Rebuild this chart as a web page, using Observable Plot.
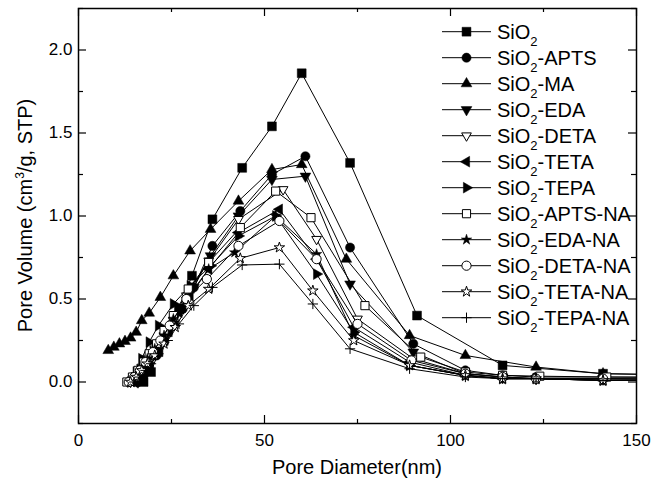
<!DOCTYPE html>
<html><head><meta charset="utf-8">
<script src="https://cdn.jsdelivr.net/npm/d3@7"></script>
<script src="https://cdn.jsdelivr.net/npm/@observablehq/plot@0.6"></script>
<style>
body{margin:0;background:#fff;}
#chart{position:relative;width:662px;height:484px;}
svg{font-family:"Liberation Sans",Arial,sans-serif;}
</style></head><body><div id="chart"></div>
<script>
// ---- data ----
const seriesSuffix = ["", "-APTS", "-MA", "-EDA", "-DETA", "-TETA", "-TEPA", "-APTS-NA", "-EDA-NA", "-DETA-NA", "-TETA-NA", "-TEPA-NA"];
const xTicks = [0, 50, 100, 150];
const xMinor = [25, 75, 125];
const yTicks = [0, 0.5, 1.0, 1.5, 2.0];
const yMinor = [-0.25, 0.25, 0.75, 1.25, 1.75, 2.25];

const sio2X = [17.5, 19.5, 21.5, 24, 27, 30.5, 36, 44, 52, 60, 73, 91, 114, 141, 170];
const sio2Y = [0.0, 0.06, 0.18, 0.30, 0.44, 0.64, 0.98, 1.29, 1.54, 1.86, 1.32, 0.40, 0.10, 0.05, 0.04];
const aptsX = [16, 17.5, 19, 21, 23, 25.5, 28, 31, 36, 43.5, 52, 61, 73, 90, 104, 114, 123, 141, 170];
const aptsY = [0.0, 0.04, 0.09, 0.16, 0.24, 0.34, 0.44, 0.57, 0.82, 1.03, 1.25, 1.36, 0.81, 0.23, 0.07, 0.04, 0.03, 0.03, 0.025];
const maX = [8, 9.5, 11, 12.5, 14, 15.5, 17, 19, 22, 25.5, 30, 35.5, 43, 52, 60, 72, 89, 104, 123, 141, 170];
const maY = [0.19, 0.21, 0.23, 0.245, 0.265, 0.30, 0.37, 0.415, 0.51, 0.64, 0.79, 0.92, 1.09, 1.28, 1.31, 0.74, 0.28, 0.16, 0.09, 0.05, 0.04];
const edaX = [16, 17.5, 19, 21, 23, 25.5, 28, 31, 35.5, 43, 52, 61, 73, 90, 104, 114, 123, 141, 170];
const edaY = [0.0, 0.05, 0.10, 0.17, 0.25, 0.35, 0.45, 0.57, 0.76, 1.00, 1.22, 1.24, 0.59, 0.18, 0.05, 0.03, 0.02, 0.02, 0.015];
const detaX = [14, 15.5, 17, 18.5, 20.5, 23, 25.5, 29, 35, 43, 55, 64, 75, 90, 104, 114, 123, 141, 170];
const detaY = [0.0, 0.04, 0.09, 0.14, 0.20, 0.28, 0.37, 0.52, 0.73, 0.98, 1.16, 0.86, 0.38, 0.14, 0.05, 0.03, 0.02, 0.02, 0.015];
const tetaX = [15, 16.5, 18, 20, 22, 24.5, 27, 30, 35, 43, 54, 64, 74, 89, 104, 114, 123, 141, 170];
const tetaY = [0.0, 0.05, 0.10, 0.16, 0.23, 0.32, 0.42, 0.52, 0.68, 0.90, 1.04, 0.74, 0.33, 0.12, 0.04, 0.02, 0.02, 0.01, 0.01];
const tepaX = [14, 15.5, 17, 19, 21.5, 25.5, 30, 35.5, 43, 53, 64, 74, 89, 104, 114, 123, 141, 170];
const tepaY = [0.0, 0.06, 0.14, 0.24, 0.34, 0.47, 0.58, 0.70, 0.88, 1.00, 0.65, 0.30, 0.10, 0.04, 0.02, 0.02, 0.01, 0.01];
const aptsNaX = [13, 14.5, 16, 17.5, 19, 21, 23, 25.5, 29.5, 35, 43.5, 53, 62.5, 77, 92, 104, 114, 124, 142, 170];
const aptsNaY = [0.0, 0.03, 0.07, 0.12, 0.17, 0.23, 0.31, 0.40, 0.56, 0.72, 0.93, 1.15, 0.99, 0.46, 0.15, 0.06, 0.04, 0.035, 0.03, 0.03];
const edaNaX = [14, 15.5, 17, 18.5, 20.5, 23, 25.5, 29, 35, 42, 53, 64, 74, 89, 104, 114, 123, 141, 170];
const edaNaY = [0.0, 0.04, 0.09, 0.14, 0.20, 0.28, 0.38, 0.50, 0.68, 0.78, 1.00, 0.77, 0.28, 0.10, 0.04, 0.02, 0.02, 0.01, 0.01];
const detaNaX = [13.5, 15, 16.5, 18, 20, 22, 24.5, 29, 34.5, 43, 54, 64, 75, 89.5, 104, 114, 123, 141, 170];
const detaNaY = [0.0, 0.03, 0.07, 0.12, 0.18, 0.25, 0.34, 0.50, 0.62, 0.82, 0.97, 0.74, 0.35, 0.13, 0.05, 0.03, 0.02, 0.02, 0.015];
const tetaNaX = [14, 15.5, 17, 18.5, 20.5, 23, 26, 29.5, 35, 43.5, 54, 63, 74, 89, 104, 114, 123, 141, 170];
const tetaNaY = [0.0, 0.03, 0.07, 0.11, 0.16, 0.23, 0.33, 0.46, 0.56, 0.745, 0.81, 0.55, 0.25, 0.10, 0.04, 0.02, 0.02, 0.01, 0.01];
const tepaNaX = [15, 16.5, 18, 19.5, 21.5, 24, 27, 31, 36, 44, 54, 63, 73, 89, 104, 114, 123, 141, 170];
const tepaNaY = [0.0, 0.03, 0.07, 0.11, 0.17, 0.25, 0.35, 0.46, 0.57, 0.705, 0.71, 0.47, 0.20, 0.08, 0.03, 0.02, 0.02, 0.01, 0.01];

const seriesX = [sio2X, aptsX, maX, edaX, detaX, tetaX, tepaX, aptsNaX, edaNaX, detaNaX, tetaNaX, tepaNaX];
const seriesY = [sio2Y, aptsY, maY, edaY, detaY, tetaY, tepaY, aptsNaY, edaNaY, detaNaY, tetaNaY, tepaNaY];

// ---- styles ----
function triSym(angle) {
  const a = angle * Math.PI / 180, c = Math.cos(a), s = Math.sin(a);
  return {draw(ctx, size) {
    const y = -Math.sqrt(size / (Math.sqrt(3) * 3));
    const pts = [[0, 2 * y], [-Math.sqrt(3) * y, -y], [Math.sqrt(3) * y, -y]];
    pts.forEach(([px, py], i) => {
      const rx = px * c - py * s, ry = px * s + py * c;
      if (i === 0) ctx.moveTo(rx, ry); else ctx.lineTo(rx, ry);
    });
    ctx.closePath();
  }};
}
const styles = [
  {sym: d3.symbolSquare, fill: "black", r: 5},
  {sym: d3.symbolCircle, fill: "black", r: 4.6},
  {sym: triSym(0), fill: "black", r: 4},
  {sym: triSym(180), fill: "black", r: 4},
  {sym: triSym(180), fill: "white", r: 3.6},
  {sym: triSym(-90), fill: "black", r: 4},
  {sym: triSym(90), fill: "black", r: 4},
  {sym: d3.symbolSquare, fill: "white", r: 4.6},
  {sym: d3.symbolStar, fill: "black", r: 3.3},
  {sym: d3.symbolCircle, fill: "white", r: 4.6},
  {sym: d3.symbolStar, fill: "white", r: 3.3},
  {sym: d3.symbolPlus, fill: "none", r: 3.4}
];

const W = 662, H = 484, ML = 78, MR = 26, MT = 8, MB = 61;
const frameH = H - MT - MB, frameW = W - ML - MR;

const marks = [];
seriesX.forEach((xs, i) => {
  const data = xs.map((x, j) => ({x, y: seriesY[i][j]}));
  const st = styles[i];
  marks.push(Plot.line(data, {x: "x", y: "y", stroke: "black", strokeWidth: 1, clip: true}));
  marks.push(Plot.dot(data, {x: "x", y: "y", symbol: st.sym, r: st.r, fill: st.fill,
    stroke: "black", strokeWidth: st.fill === "black" ? 0.5 : 1, clip: true}));
});

const chart = Plot.plot({
  width: W, height: H, marginLeft: ML, marginRight: MR, marginTop: MT, marginBottom: MB,
  style: {fontFamily: "'Liberation Sans', Arial, sans-serif", background: "white"},
  x: {domain: [0, 150], label: null},
  y: {domain: [-0.25, 2.25], label: null},
  marks: [
    ...marks,
    Plot.axisX(xTicks, {anchor: "bottom", tickSize: 0, tickPadding: 10, fontSize: 17, label: null, tickFormat: d => d3.format("d")(d)}),
    Plot.axisY(yTicks, {anchor: "left", tickSize: 0, tickPadding: 6, fontSize: 17, label: null, tickFormat: d3.format(".1f")}),
    Plot.tickX(xTicks, {x: d => d, insetTop: frameH - 8, stroke: "black", strokeWidth: 1.2}),
    Plot.tickX(xMinor, {x: d => d, insetTop: frameH - 4, stroke: "black", strokeWidth: 1.2}),
    Plot.tickX(xTicks, {x: d => d, insetBottom: frameH - 8, stroke: "black", strokeWidth: 1.2}),
    Plot.tickX(xMinor, {x: d => d, insetBottom: frameH - 4, stroke: "black", strokeWidth: 1.2}),
    Plot.tickY(yTicks, {y: d => d, insetRight: frameW - 8, stroke: "black", strokeWidth: 1.2}),
    Plot.tickY(yMinor, {y: d => d, insetRight: frameW - 5, stroke: "black", strokeWidth: 1.2}),
    Plot.tickY(yTicks, {y: d => d, insetLeft: frameW - 8, stroke: "black", strokeWidth: 1.2}),
    Plot.tickY(yMinor, {y: d => d, insetLeft: frameW - 5, stroke: "black", strokeWidth: 1.2}),
    Plot.frame({stroke: "black", strokeWidth: 1.5})
  ]
});
document.getElementById("chart").appendChild(chart);

// ---- titles & legend ----
const svg = d3.select(chart);
svg.append("text").attr("x", ML + frameW / 2).attr("y", 474)
  .attr("text-anchor", "middle").attr("font-size", 20).attr("fill", "black")
  .text("Pore Diameter(nm)");
const yt = svg.append("text").attr("transform", `translate(32,${MT + frameH / 2}) rotate(-90)`)
  .attr("text-anchor", "middle").attr("font-size", 20).attr("fill", "black");
yt.append("tspan").text("Pore Volume (cm");
yt.append("tspan").attr("font-size", 12).attr("dy", -8).text("3");
yt.append("tspan").attr("dy", 8).text("/g, STP)");

const lg = svg.append("g");
seriesSuffix.forEach((suf, i) => {
  const cy = 31.7 + i * 26;
  const st = styles[i];
  lg.append("line").attr("x1", 442).attr("x2", 491).attr("y1", cy).attr("y2", cy)
    .attr("stroke", "black").attr("stroke-width", 1);
  lg.append("path").attr("transform", `translate(466.5,${cy})`)
    .attr("d", d3.symbol(st.sym, Math.PI * st.r * st.r)())
    .attr("fill", st.fill).attr("stroke", "black").attr("stroke-width", st.fill === "black" ? 0.5 : 1);
  const t = lg.append("text").attr("x", 497).attr("y", cy + 7).attr("font-size", 20)
    .attr("text-anchor", "start").attr("fill", "black");
  t.append("tspan").text("SiO");
  t.append("tspan").attr("font-size", 13).attr("dy", 7).text("2");
  if (suf) t.append("tspan").attr("dy", -7).text(suf);
});
</script>
</body></html>
